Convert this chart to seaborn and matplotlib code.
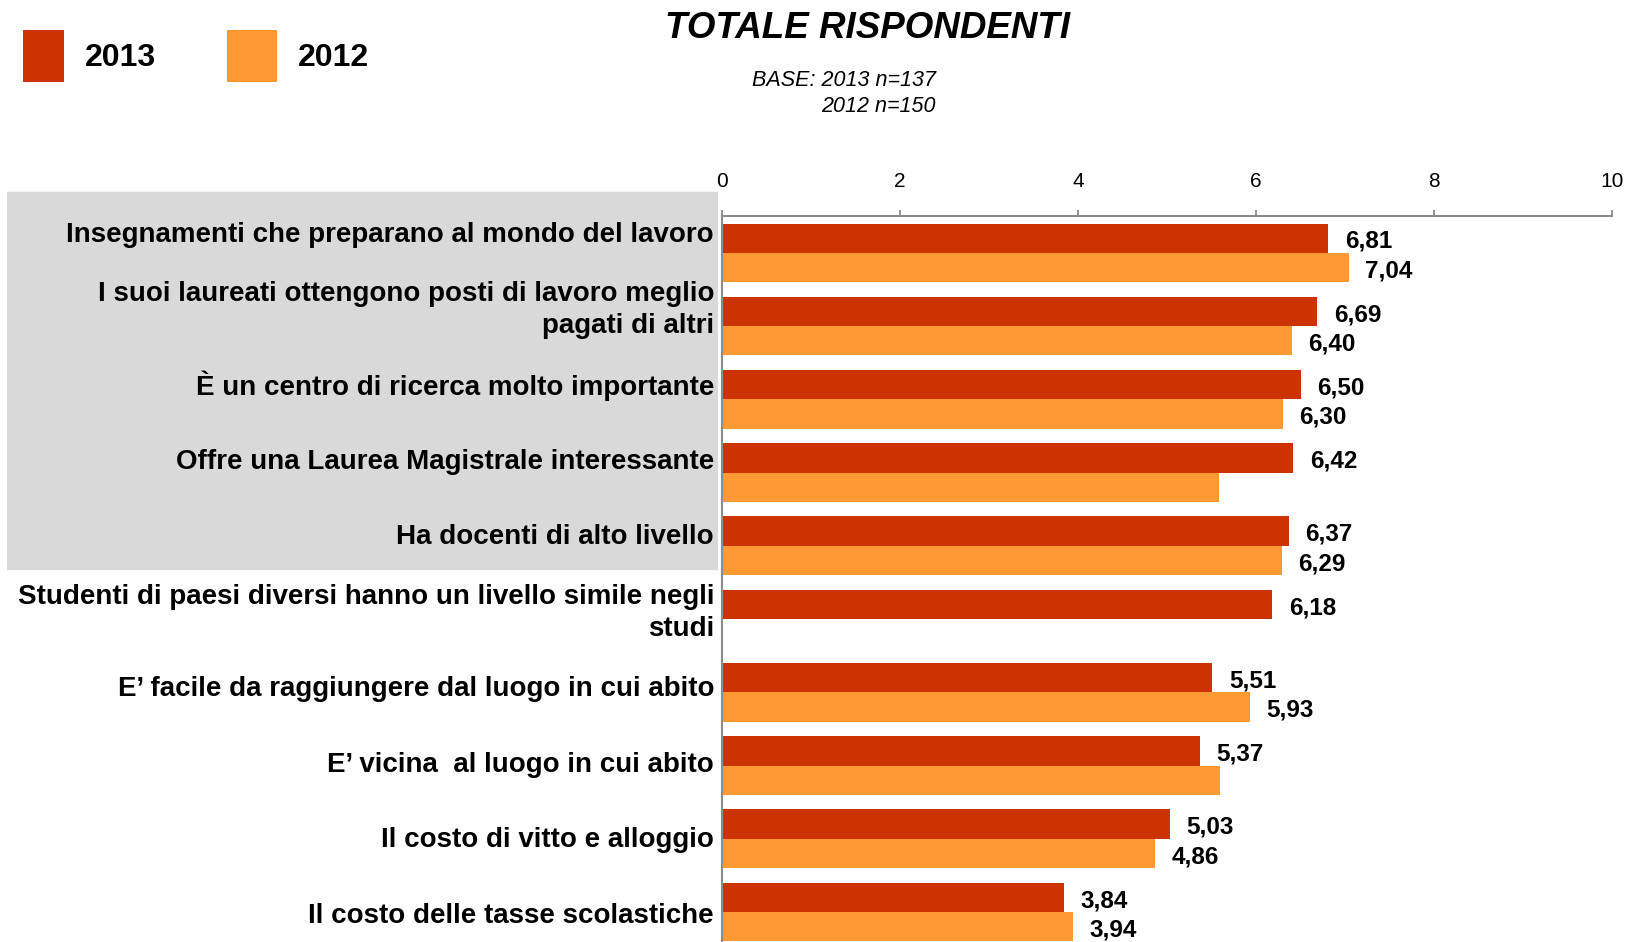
import numpy as np
import pandas as pd
import matplotlib
matplotlib.use("Agg")
import matplotlib.pyplot as plt
from matplotlib.patches import Patch
import seaborn as sns

# ---------------- data ----------------
categories = [
    "Insegnamenti che preparano al mondo del lavoro",
    "I suoi laureati ottengono posti di lavoro meglio\npagati di altri",
    "È un centro di ricerca molto importante",
    "Offre una Laurea Magistrale interessante",
    "Ha docenti di alto livello",
    "Studenti di paesi diversi hanno un livello simile negli\nstudi",
    "E’ facile da raggiungere dal luogo in cui abito",
    "E’ vicina  al luogo in cui abito",
    "Il costo di vitto e alloggio",
    "Il costo delle tasse scolastiche",
]
values_2013 = [6.81, 6.69, 6.50, 6.42, 6.37, 6.18, 5.51, 5.37, 5.03, 3.84]
values_2012 = [7.04, 6.40, 6.30, 5.58, 6.29, np.nan, 5.93, 5.59, 4.86, 3.94]
# whether the value label is printed in the original chart
show_2013 = [True] * 10
show_2012 = [True, True, True, False, True, False, True, False, True, True]
series = ["2013", "2012"]
x_ticks = [0, 2, 4, 6, 8, 10]
highlighted = 5  # first five items sit on the grey panel

title = "TOTALE RISPONDENTI"
base_line1 = "BASE: 2013 n=137"
base_line2 = "2012 n=150"

RED = "#CC3300"
ORANGE = "#FF9933"
GREY_BOX = "#D9D9D9"
AXIS_GREY = "#8C8C8C"

# ---------------- style ----------------
sns.set_style("white")
plt.rcParams["font.family"] = ["Liberation Sans", "DejaVu Sans"]
plt.rcParams["text.color"] = "black"

W, H = 1632, 942
fig = plt.figure(figsize=(W / 100, H / 100), dpi=100)

rows = []
for c, a, b in zip(categories, values_2013, values_2012):
    rows.append({"cat": c, "year": "2013", "value": a})
    if not np.isnan(b):
        rows.append({"cat": c, "year": "2012", "value": b})
df = pd.DataFrame(rows)

# bar axes
ax = fig.add_axes([722 / W, 0, (1612 - 722) / W, (H - 215.5) / H])
sns.barplot(data=df, y="cat", x="value", hue="year", order=categories,
            hue_order=series, palette=[RED, ORANGE], orient="h", width=0.8,
            saturation=1, errorbar=None, linewidth=0, legend=False, ax=ax)
ax.set_xlim(0, 10)
ax.set_ylim(9.41, -0.51)
ax.set_xlabel("")
ax.set_ylabel("")
ax.set_yticks([])
ax.xaxis.tick_top()
ax.set_xticks(x_ticks)
ax.set_xticklabels([str(t) for t in x_ticks])
ax.tick_params(axis="x", direction="out", length=4.5, width=1.3,
               color=AXIS_GREY, pad=13, labelsize=15, labelcolor="black")
for s in ["right", "bottom"]:
    ax.spines[s].set_visible(False)
for s in ["top", "left"]:
    ax.spines[s].set_color(AXIS_GREY)
    ax.spines[s].set_linewidth(1.5)
ax.grid(False)


def fmt(v):
    return f"{v:.2f}".replace(".", ",")


lab13 = [fmt(v) if s else "" for v, s in zip(values_2013, show_2013) if not np.isnan(v)]
lab12 = [fmt(v) if s else "" for v, s in zip(values_2012, show_2012) if not np.isnan(v)]
for cont, labs in zip(ax.containers, [lab13, lab12]):
    anns = ax.bar_label(cont, labels=labs, padding=12, fontsize=17.5,
                        fontweight="bold", color="black")
    for a in anns:
        a.xyann = (12, -2.3)

# label axes (category text + grey panel)
lax = fig.add_axes([7 / W, 0, (718 - 7) / W, (H - 180) / H])
lax.set_xlim(0, 1)
lax.set_ylim(9.379, -0.687)
lax.axis("off")
lax.axhspan(-0.535, highlighted - 0.544, color=GREY_BOX, zorder=0)
for i, c in enumerate(categories):
    lax.text((714 - 7) / (718 - 7), i + 0.035, c, ha="right", va="center",
             multialignment="right", fontsize=20, fontweight="bold",
             linespacing=1.3, color="black", zorder=2)

# title and base
fig.text(868 / W, 1 - 28 / H, title, ha="center", va="center",
         fontsize=26.5, fontweight="bold", fontstyle="italic", color="black")
fig.text(936 / W, 1 - 81 / H, base_line1, ha="right", va="center",
         fontsize=15.5, fontstyle="italic", color="black")
fig.text(936 / W, 1 - 107 / H, base_line2, ha="right", va="center",
         fontsize=15.5, fontstyle="italic", color="black")

# legend (two entries, the original swatches differ in width)
leg_font = {"weight": "bold", "size": 23}
leg1 = fig.legend([Patch(facecolor=RED, edgecolor="none")], [series[0]],
                  loc="upper left", bbox_to_anchor=(23 / W, 1 - 30 / H),
                  frameon=False, prop=leg_font, handlelength=1.285,
                  handleheight=2.13, handletextpad=0.66, borderpad=0,
                  borderaxespad=0)
leg2 = fig.legend([Patch(facecolor=ORANGE, edgecolor="none")], [series[1]],
                  loc="upper left", bbox_to_anchor=(227 / W, 1 - 30 / H),
                  frameon=False, prop=leg_font, handlelength=1.567,
                  handleheight=2.13, handletextpad=0.66, borderpad=0,
                  borderaxespad=0)

fig.savefig("out.png", dpi=100)
